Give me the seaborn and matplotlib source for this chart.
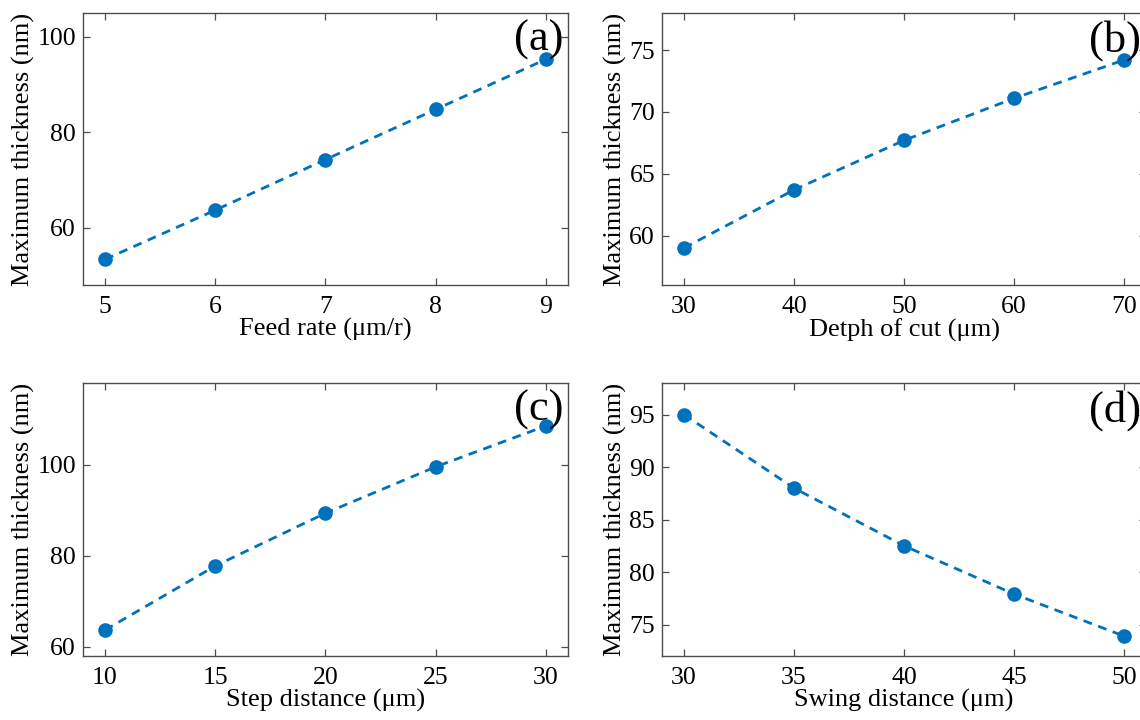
import matplotlib
matplotlib.use("Agg")
import matplotlib.pyplot as plt
import seaborn as sns
import pandas as pd

# ---- data ----
feed_rate = [5, 6, 7, 8, 9]
thick_feed = [53.4, 63.7, 74.3, 84.8, 95.3]

depth_cut = [30, 40, 50, 60, 70]
thick_depth = [59.0, 63.7, 67.7, 71.1, 74.2]

step_dist = [10, 15, 20, 25, 30]
thick_step = [63.7, 77.8, 89.4, 99.6, 108.6]

swing_dist = [30, 35, 40, 45, 50]
thick_swing = [95.0, 88.0, 82.5, 77.9, 73.9]

xlabels = ["Feed rate (μm/r)", "Detph of cut (μm)", "Step distance (μm)", "Swing distance (μm)"]
ylabel = "Maximum thickness (nm)"
panel_tags = ["(a)", "(b)", "(c)", "(d)"]

sns.set_theme(style="ticks")
plt.rcParams["font.family"] = ["Liberation Serif", "DejaVu Serif"]
plt.rcParams["text.color"] = "black"
plt.rcParams["axes.labelcolor"] = "black"

BLUE = "#0072BD"
SPINE = "#4d4d4d"

fig = plt.figure(figsize=(11.4, 7.2), dpi=100)

positions = [
    [0.0728, 0.604, 0.4254, 0.378],
    [0.5807, 0.604, 0.4246, 0.378],
    [0.0728, 0.0889, 0.4254, 0.379],
    [0.5807, 0.0889, 0.4246, 0.379],
]
datasets = [
    (feed_rate, thick_feed),
    (depth_cut, thick_depth),
    (step_dist, thick_step),
    (swing_dist, thick_swing),
]
xlims = [(4.8, 9.2), (28, 72), (9, 31), (29, 51)]
ylims = [(48, 105), (56, 78), (58, 118), (72, 98)]
yticks = [[60, 80, 100], [60, 65, 70, 75], [60, 80, 100], [75, 80, 85, 90, 95]]

for i in range(4):
    ax = fig.add_axes(positions[i])
    xs, ys = datasets[i]
    df = pd.DataFrame({"x": xs, "y": ys})
    sns.lineplot(data=df, x="x", y="y", ax=ax, color=BLUE, linestyle="--",
                 linewidth=2.0, marker="o", markersize=10.5, markeredgewidth=0,
                 markerfacecolor=BLUE)
    for ln in ax.lines:
        ln.set_dashes([3.2, 2.4])
    ax.set_xlim(*xlims[i])
    ax.set_ylim(*ylims[i])
    ax.set_xticks(xs)
    ax.set_yticks(yticks[i])
    ax.set_xlabel(xlabels[i], fontsize=19, labelpad=0)
    ax.set_ylabel(ylabel, fontsize=19, labelpad=2)
    ax.tick_params(direction="in", top=True, right=True, length=5, width=0.9,
                   labelsize=18.5, colors=SPINE, labelcolor="black")
    ax.tick_params(axis="x", pad=8)
    ax.tick_params(axis="y", pad=5)
    for sp in ax.spines.values():
        sp.set_visible(True)
        sp.set_color(SPINE)
        sp.set_linewidth(1.0)
    ax.grid(False)
    ax.text(0.99, 0.975, panel_tags[i], transform=ax.transAxes, ha="right", va="top",
            fontsize=32, color="black")

fig.savefig("out.png", dpi=100)
